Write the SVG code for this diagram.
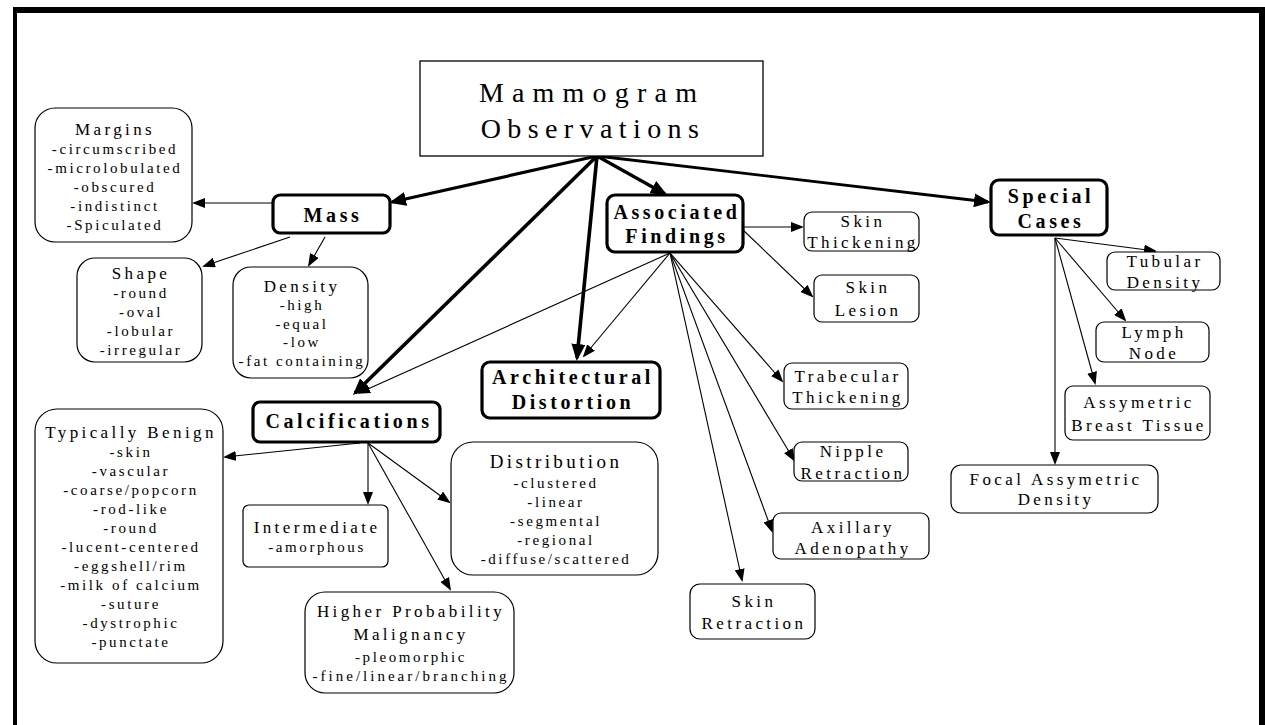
<svg xmlns="http://www.w3.org/2000/svg" width="1265" height="725" viewBox="0 0 1265 725">
<style>
text{font-family:"Liberation Serif","Times New Roman",serif;fill:#000;text-anchor:middle}
.t0{font-size:28px;letter-spacing:7px}
.b{font-size:20px;font-weight:bold;letter-spacing:3.6px}
.h{font-size:17px;letter-spacing:3.4px}
.l{font-size:15px;letter-spacing:2.6px}
.box{fill:#fff;stroke:#000;stroke-width:1.2}
.bb{fill:#fff;stroke:#000;stroke-width:3.2}
.thin{stroke:#000;stroke-width:1.1;fill:none;marker-end:url(#ah)}
.thick{stroke:#000;stroke-width:3.2;fill:none;marker-end:url(#AH)}
</style>
<defs>
<marker id="ah" markerUnits="userSpaceOnUse" markerWidth="13" markerHeight="10" refX="11" refY="5" orient="auto"><path d="M0,0 L13,5 L0,10 z" fill="#000"/></marker>
<marker id="AH" markerUnits="userSpaceOnUse" markerWidth="17" markerHeight="14" refX="14" refY="7" orient="auto"><path d="M0,0 L17,7 L0,14 z" fill="#000"/></marker>
</defs>
<rect width="1265" height="725" fill="#fff"/>
<g id="frame" fill="#000">
<rect x="13" y="7" width="1252" height="6"/>
<rect x="13" y="7" width="4" height="718"/>
<rect x="1259" y="7" width="6" height="718"/>
</g>
<g id="connectors">
<line class="thick" x1="597" y1="156" x2="392" y2="202"/>
<line class="thick" x1="597" y1="156" x2="355" y2="393" style="stroke-width:3.6"/>
<line class="thick" x1="597" y1="156" x2="577" y2="358" style="stroke-width:3.6"/>
<line class="thick" x1="597" y1="156" x2="665" y2="194"/>
<line class="thick" x1="597" y1="156" x2="988" y2="202" style="stroke-width:2.8"/>
<line class="thin" x1="273" y1="203" x2="194" y2="203"/>
<line class="thin" x1="290" y1="237" x2="204" y2="266"/>
<line class="thin" x1="325" y1="237" x2="309" y2="265"/>
<line class="thin" x1="360" y1="443" x2="225" y2="457"/>
<line class="thin" x1="368" y1="443" x2="368" y2="503"/>
<line class="thin" x1="368" y1="443" x2="449" y2="502"/>
<line class="thin" x1="368" y1="443" x2="450" y2="589"/>
<line class="thin" x1="670" y1="253" x2="359" y2="393"/>
<line class="thin" x1="670" y1="253" x2="584" y2="356"/>
<line class="thin" x1="743" y1="227" x2="802" y2="227"/>
<line class="thin" x1="743" y1="230" x2="812" y2="296"/>
<line class="thin" x1="670" y1="253" x2="782" y2="381"/>
<line class="thin" x1="670" y1="253" x2="794" y2="460"/>
<line class="thin" x1="670" y1="253" x2="772" y2="531"/>
<line class="thin" x1="670" y1="253" x2="742" y2="580"/>
<line class="thin" x1="1055" y1="238" x2="1155" y2="251"/>
<line class="thin" x1="1055" y1="238" x2="1125" y2="320"/>
<line class="thin" x1="1055" y1="238" x2="1095" y2="383"/>
<line class="thin" x1="1055" y1="238" x2="1055" y2="463"/>
</g>
<g id="mammogram">
<rect x="420" y="61" width="343" height="95" fill="#fff" stroke="#000" stroke-width="1.3"/>
<text class="t0" x="592" y="102" style="letter-spacing:8.2px">Mammogram</text>
<text class="t0" x="593" y="138" style="letter-spacing:6.4px">Observations</text>
</g>
<g id="mass">
<rect class="bb" x="273" y="195" width="117" height="38" rx="7"/>
<text class="b" x="333" y="222">Mass</text>
</g>
<g id="margins">
<rect class="box" x="35" y="108" width="157" height="134" rx="20"/>
<text class="h" x="115" y="135">Margins</text>
<text class="l" x="115" y="154">-circumscribed</text>
<text class="l" x="115" y="173">-microlobulated</text>
<text class="l" x="115" y="192">-obscured</text>
<text class="l" x="115" y="211">-indistinct</text>
<text class="l" x="115" y="230">-Spiculated</text>
</g>
<g id="shape">
<rect class="box" x="77" y="258" width="125" height="104" rx="18"/>
<text class="h" x="141" y="279">Shape</text>
<text class="l" x="141" y="298">-round</text>
<text class="l" x="141" y="317">-oval</text>
<text class="l" x="141" y="336">-lobular</text>
<text class="l" x="141" y="355">-irregular</text>
</g>
<g id="density">
<rect class="box" x="233" y="267" width="135" height="111" rx="18"/>
<text class="h" x="302" y="292">Density</text>
<text class="l" x="302" y="310">-high</text>
<text class="l" x="302" y="329">-equal</text>
<text class="l" x="302" y="347">-low</text>
<text class="l" x="302" y="366">-fat containing</text>
</g>
<g id="calcifications">
<rect class="bb" x="253" y="402" width="187" height="40" rx="7"/>
<text class="b" x="349" y="428">Calcifications</text>
</g>
<g id="benign">
<rect class="box" x="35" y="409" width="188" height="254" rx="22"/>
<text class="h" x="131" y="438">Typically Benign</text>
<text class="l" x="131" y="457">-skin</text>
<text class="l" x="131" y="476">-vascular</text>
<text class="l" x="131" y="495">-coarse/popcorn</text>
<text class="l" x="131" y="514">-rod-like</text>
<text class="l" x="131" y="533">-round</text>
<text class="l" x="131" y="552">-lucent-centered</text>
<text class="l" x="131" y="571">-eggshell/rim</text>
<text class="l" x="131" y="590">-milk of calcium</text>
<text class="l" x="131" y="609">-suture</text>
<text class="l" x="131" y="628">-dystrophic</text>
<text class="l" x="131" y="647">-punctate</text>
</g>
<g id="intermediate">
<rect class="box" x="243" y="505" width="145" height="62" rx="6"/>
<text class="h" x="317" y="533">Intermediate</text>
<text class="l" x="317" y="552">-amorphous</text>
</g>
<g id="distribution">
<rect class="box" x="451" y="442" width="207" height="133" rx="22"/>
<text class="h" x="556" y="468" style="font-size:19px">Distribution</text>
<text class="l" x="556" y="488">-clustered</text>
<text class="l" x="556" y="507">-linear</text>
<text class="l" x="556" y="526">-segmental</text>
<text class="l" x="556" y="545">-regional</text>
<text class="l" x="556" y="564">-diffuse/scattered</text>
</g>
<g id="higher">
<rect class="box" x="305" y="592" width="209" height="101" rx="20"/>
<text class="h" x="411" y="617">Higher Probability</text>
<text class="h" x="411" y="640">Malignancy</text>
<text class="l" x="411" y="662">-pleomorphic</text>
<text class="l" x="411" y="681" style="letter-spacing:3px">-fine/linear/branching</text>
</g>
<g id="architectural">
<rect class="bb" x="482" y="362" width="178" height="56" rx="8"/>
<text class="b" x="573" y="384">Architectural</text>
<text class="b" x="573" y="409">Distortion</text>
</g>
<g id="associated">
<rect class="bb" x="607" y="195" width="136" height="57" rx="8"/>
<text class="b" x="677" y="219">Associated</text>
<text class="b" x="677" y="243">Findings</text>
</g>
<g id="skin-thickening">
<rect class="box" x="804" y="212" width="115" height="39" rx="8"/>
<text class="h" x="863" y="227">Skin</text>
<text class="h" x="863" y="248">Thickening</text>
</g>
<g id="skin-lesion">
<rect class="box" x="814" y="275" width="105" height="47" rx="8"/>
<text class="h" x="868" y="293">Skin</text>
<text class="h" x="868" y="316">Lesion</text>
</g>
<g id="trabecular">
<rect class="box" x="784" y="363" width="124" height="46" rx="8"/>
<text class="h" x="848" y="382">Trabecular</text>
<text class="h" x="848" y="403">Thickening</text>
</g>
<g id="nipple">
<rect class="box" x="794" y="442" width="114" height="39" rx="8"/>
<text class="h" x="853" y="457">Nipple</text>
<text class="h" x="853" y="479">Retraction</text>
</g>
<g id="axillary">
<rect class="box" x="773" y="513" width="156" height="46" rx="8"/>
<text class="h" x="853" y="533">Axillary</text>
<text class="h" x="853" y="554">Adenopathy</text>
</g>
<g id="skin-retraction">
<rect class="box" x="690" y="584" width="125" height="55" rx="10"/>
<text class="h" x="754" y="607">Skin</text>
<text class="h" x="754" y="629">Retraction</text>
</g>
<g id="special">
<rect class="bb" x="991" y="180" width="116" height="55" rx="8"/>
<text class="b" x="1051" y="203">Special</text>
<text class="b" x="1051" y="228">Cases</text>
</g>
<g id="tubular">
<rect class="box" x="1107" y="252" width="113" height="38" rx="8"/>
<text class="h" x="1165" y="267">Tubular</text>
<text class="h" x="1165" y="288">Density</text>
</g>
<g id="lymph">
<rect class="box" x="1096" y="322" width="113" height="40" rx="8"/>
<text class="h" x="1154" y="338">Lymph</text>
<text class="h" x="1154" y="359">Node</text>
</g>
<g id="assymetric-breast">
<rect class="box" x="1065" y="386" width="145" height="54" rx="8"/>
<text class="h" x="1139" y="408">Assymetric</text>
<text class="h" x="1139" y="431">Breast Tissue</text>
</g>
<g id="focal">
<rect class="box" x="951" y="465" width="207" height="48" rx="10"/>
<text class="h" x="1056" y="485">Focal Assymetric</text>
<text class="h" x="1056" y="505">Density</text>
</g>
</svg>
